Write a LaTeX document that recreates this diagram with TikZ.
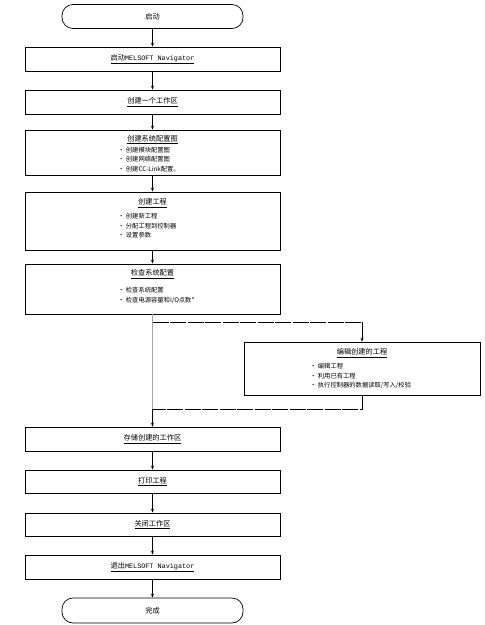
\documentclass[tikz,border=0pt]{standalone}
\usepackage{fontspec}
\setmainfont{Noto Sans CJK SC}
\newfontfamily\latinmono{Liberation Mono}
\usetikzlibrary{arrows.meta}
\tikzset{
  box/.style={draw=black, line width=0.7pt, minimum width=255pt, inner sep=0pt},
  term/.style={draw=black, line width=0.7pt, rounded corners=11pt, minimum width=181pt, inner sep=0pt, font=\fontsize{7.2}{8}\selectfont},
  lbl/.style={inner sep=0pt, font=\fontsize{7.2}{8}\selectfont},
  blist/.style={inner sep=0pt, anchor=north west, align=left, font=\fontsize{6.3}{9.5}\selectfont},
  conn/.style={line width=0.7pt, -{Stealth[length=4pt,width=3pt]}},
  branch/.style={line width=0.7pt, dash pattern=on 16pt off 1.5pt},
}
\newcommand{\ttl}[1]{\underline{#1}}
\begin{document}
\begin{tikzpicture}[x=1pt,y=-1pt]
\useasboundingbox[fill=white] (0,0) rectangle (485,625);
% terminators and boxes
\node[term, minimum height=24pt] (start) at (152.5,16.5) {启动};
\node[box, minimum height=24pt] (b1) at (152.5,59) {};
\node[lbl] (t1) at (152.5,59) {\ttl{启动{\latinmono\fontsize{6.8}{8}\selectfont MELSOFT Navigator}}};
\node[box, minimum height=24pt] (b2) at (152.5,102) {};
\node[lbl] (t2) at (152.5,102) {\ttl{创建一个工作区}};
\node[box, minimum height=45pt] (b3) at (152.5,152.5) {};
\node[lbl] (t3) at (152.5,139.5) {\ttl{创建系统配置图}};
\node[blist] (l3) at (118,147) {• 创建模块配置图\\• 创建网络配置图\\• 创建CC-Link配置。};
\node[box, minimum height=58pt] (b4) at (152.5,221) {};
\node[lbl] (t4) at (152.5,203) {\ttl{创建工程}};
\node[blist] (l4) at (118,213) {• 创建新工程\\• 分配工程到控制器\\• 设置参数};
\node[box, minimum height=50pt] (b5) at (152.5,289) {};
\node[lbl] (t5) at (152.5,274) {\ttl{检查系统配置}};
\node[blist] (l5) at (118,287) {• 检查系统配置\\• 检查电源容量和I/O点数*};
\node[box, minimum width=236pt, minimum height=53pt] (b6) at (362,368.5) {};
\node[lbl] (t6) at (362,353) {\ttl{编辑创建的工程}};
\node[blist] (l6) at (310,363) {• 编辑工程\\• 利用已有工程\\• 执行控制器的数据读取/写入/校验};
\node[box, minimum height=24pt] (b7) at (152.5,439) {};
\node[lbl] (t7) at (152.5,439) {\ttl{存储创建的工作区}};
\node[box, minimum height=23pt] (b8) at (152.5,481.5) {};
\node[lbl] (t8) at (152.5,481.5) {\ttl{打印工程}};
\node[box, minimum height=23pt] (b9) at (152.5,524.5) {};
\node[lbl] (t9) at (152.5,524.5) {\ttl{关闭工作区}};
\node[box, minimum height=24pt] (b10) at (152.5,567) {};
\node[lbl] (t10) at (152.5,567) {\ttl{退出{\latinmono\fontsize{6.8}{8}\selectfont MELSOFT Navigator}}};
\node[term, minimum height=25pt] (end) at (152.5,610.5) {完成};
% connectors
\draw[conn] (start) -- (b1);
\draw[conn] (b1) -- (b2);
\draw[conn] (b2) -- (b3);
\draw[conn] (b3) -- (b4);
\draw[conn] (b4) -- (b5);
\draw[line width=1pt, gray!70] (b5.south) -- (b7.north);
\coordinate (s1) at (152.5,322);
\coordinate (s2) at (b6.north |- s1);
\draw[branch] (s1) -- (s2);
\draw[conn] (s2) -- (b6.north);
\coordinate (r1) at (b6.south |- 0,409);
\coordinate (r2) at (152.5,409);
\draw[branch] (b6.south) -- (r1) -- (r2);
\draw[conn] (r2) -- (b7.north);
\draw[conn] (b7) -- (b8);
\draw[conn] (b8) -- (b9);
\draw[conn] (b9) -- (b10);
\draw[conn] (b10) -- (end);
\end{tikzpicture}
\end{document}
